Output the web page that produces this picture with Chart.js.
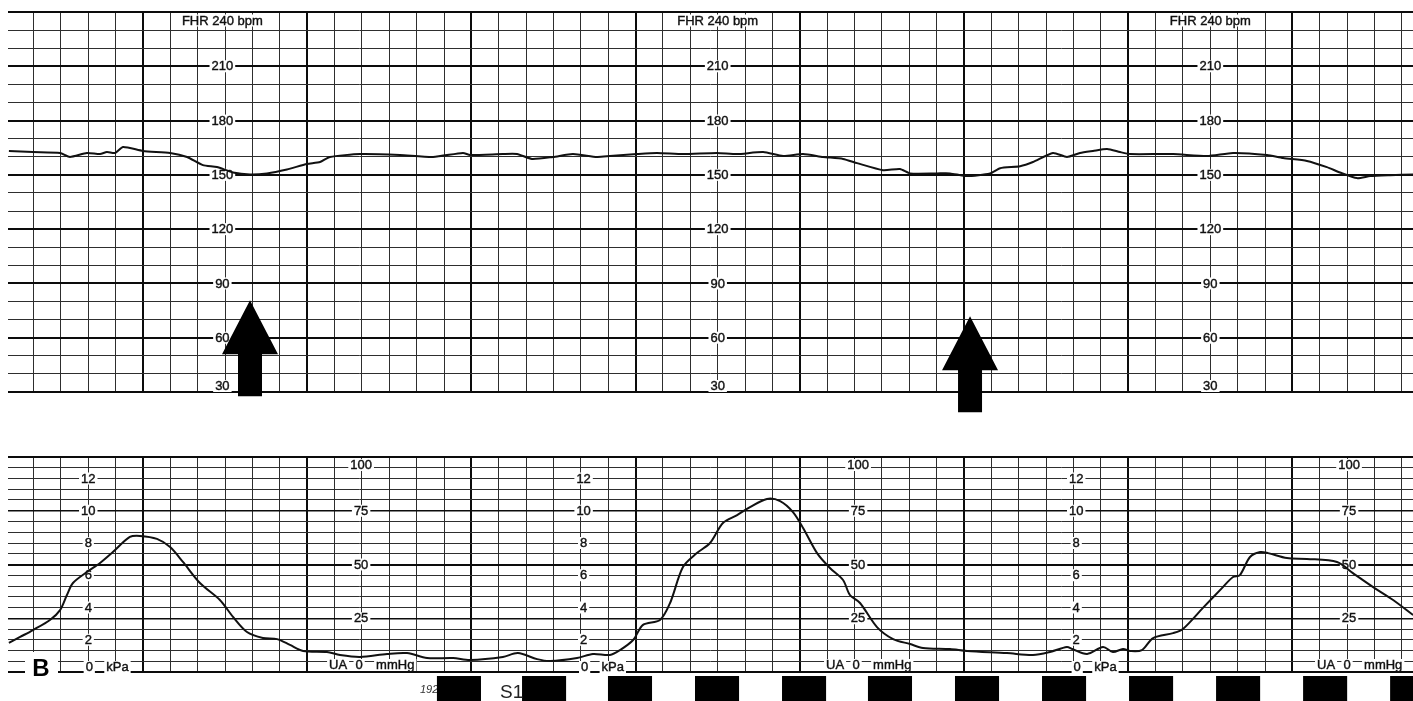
<!DOCTYPE html>
<html><head><meta charset="utf-8">
<script src="https://cdn.jsdelivr.net/npm/chart.js@4.4.1/dist/chart.umd.min.js"></script>
<style>
html,body{margin:0;padding:0;background:#fff;}
#wrap{position:relative;width:1413px;height:701px;overflow:hidden;background:#fff;}
canvas{position:absolute;left:0;display:block;}
#top{top:0;}
#bot{top:440px;}
</style></head><body>
<div id="wrap">
<canvas id="top" width="1413" height="420"></canvas>
<canvas id="bot" width="1413" height="261"></canvas>
</div>
<script>
// ---- data (time in seconds along the paper) ----
const fhrTime = [11.0,19.8,29.7,33.3,39.5,44.3,46.8,49.8,52.7,60.0,69.9,76.1,81.9,87.0,92.9,99.1,105.3,112.6,119.9,124.7,128.3,139.3,153.9,166.0,176.9,179.5,191.5,196.7,202.1,209.8,217.1,225.9,230.6,240.5,247.8,257.3,269.7,277.1,286.6,293.9,301.2,308.5,315.8,320.9,330.4,336.6,340.3,350.1,354.9,361.1,369.5,373.2,380.5,385.2,392.5,397.6,402.4,407.1,412.3,417.0,420.7,436.4,448.8,458.3,470.7,476.6,485.3,492.6,497.4,503.6,508.4,515.7,524.1];
const fhrBpm = [163.2,162.6,162.1,159.9,162.1,161.5,162.6,162.1,165.4,163.2,162.1,159.9,155.4,154.3,151.3,150.2,150.8,153.0,156.0,157.1,159.9,161.5,161.0,159.9,162.1,161.0,161.5,161.5,158.8,159.9,161.5,159.9,160.4,161.5,162.1,161.5,162.1,161.5,162.6,160.4,161.5,159.9,158.8,156.5,152.6,153.2,150.8,150.8,150.8,149.3,150.8,153.7,154.8,157.1,162.1,159.9,162.1,163.2,164.3,162.6,161.5,161.5,160.4,162.1,161.0,159.3,157.7,154.3,151.3,148.2,149.3,149.8,150.2];

const uaTime = [11.0,15.1,19.8,26.0,29.7,32.2,34.4,39.5,44.3,49.0,55.2,58.9,65.1,69.9,74.6,80.8,88.1,92.9,98.0,103.8,109.0,113.7,118.5,127.2,132.0,139.3,149.2,156.5,163.8,173.3,179.5,191.5,197.0,204.0,208.7,218.6,224.4,230.6,234.3,239.1,242.7,248.9,252.6,257.3,262.4,267.2,271.9,277.1,281.8,288.0,292.8,297.5,301.2,306.3,311.0,315.8,318.3,322.0,328.2,334.1,340.3,345.0,354.9,361.1,375.7,385.2,391.4,397.6,399.5,405.0,410.8,414.4,418.1,420.7,425.0,429.1,436.4,440.0,447.3,454.6,458.3,460.8,464.5,468.2,471.1,478.0,485.3,496.3,502.1,509.5,516.8,524.1];
const uaMmHg = [13.5,16.3,19.5,24.2,28.8,35.8,41.4,46.5,50.7,55.8,62.8,63.3,61.9,58.1,51.2,41.4,33.5,25.6,18.6,15.8,15.3,12.6,9.8,9.3,7.9,7.0,8.4,8.8,6.5,6.5,5.6,7.0,8.8,6.0,5.1,6.5,8.4,7.9,10.2,14.9,21.9,24.2,32.1,48.8,55.3,60.0,69.3,73.0,76.7,80.5,79.5,74.4,67.0,55.3,48.4,42.8,35.8,32.1,20.9,15.3,13.0,11.2,10.7,9.8,8.8,7.9,9.3,11.6,10.7,8.4,11.6,9.3,10.7,9.8,10.2,15.8,18.1,20.0,29.8,39.5,44.2,45.1,53.5,55.8,55.3,53.0,52.6,51.2,46.0,39.5,33.5,26.5];

// tick labels printed on the paper
const fhrTickValues = [240,210,180,150,120,90,60,30];
const fhrTickLabels = ['FHR 240 bpm','210','180','150','120','90','60','30'];
const kPaTickValues = [12,10,8,6,4,2,0];
const mmHgTickValues = [100,75,50,25,0];

// where the printer put its label columns (seconds)
const fhrLabelCols = [89,270,450];
const kPaLabelCols = [40,221,401];
const mmHgLabelCols = [139.7,321.3,500.7];

// annotations
const arrowTimes = [99.1,362.2];
const arrowTipBpm = [80.7,71.8];
const markerStarts = [167.4,198.5,229.9,261.7,293.5,324.9,356.7,388.5,420.3,452.1,483.9,515.7];
const markerLen = 16.1;

const X_MIN = 10.67, X_MAX = 524.06;
const FONT = '13px "Liberation Sans", Arial, sans-serif';
const INK = '#111';
const THIN = '#2e2e2e', THICK = '#0c0c0c';

function ticksEvery(step){
  return function(scale){
    const out=[]; const s=Math.ceil((scale.min-1e-9)/step)*step;
    for(let v=s; v<=scale.max+1e-9; v+=step) out.push({value: Math.round(v*1000)/1000});
    scale.ticks = out;
  };
}
function boxText(ctx, text, x, y, align){
  ctx.font = FONT;
  const w = ctx.measureText(text).width;
  const left = align==='left' ? x : (align==='right' ? x-w : x-w/2);
  ctx.fillStyle = '#fff';
  ctx.fillRect(left-2, y-6, w+4, 12);
  ctx.fillStyle = INK; ctx.strokeStyle = INK; ctx.lineWidth = 0.4;
  ctx.textAlign = 'left'; ctx.textBaseline = 'middle';
  ctx.fillText(text, left, y+0.5);
  ctx.strokeText(text, left, y+0.5);
}
function xAxis(){
  return { type:'linear', min:X_MIN, max:X_MAX, afterBuildTicks: ticksEvery(10),
    ticks:{display:false}, border:{display:false},
    grid:{drawTicks:false,
      color: c => (c.tick && c.tick.value % 60 === 0) ? THICK : THIN,
      lineWidth: c => (c.tick && c.tick.value % 60 === 0) ? 2 : 1 } };
}

const topLabels = {
  id:'topLabels',
  beforeDatasetsDraw(chart){
    const {ctx, scales:{x, y}} = chart;
    ctx.save();
    fhrLabelCols.forEach(col => {
      const px = x.getPixelForValue(col);
      fhrTickValues.forEach((v,i) => {
        let py = y.getPixelForValue(v);
        if (v === 240) py += 8.5;
        if (v === 30) py -= 6;
        boxText(ctx, fhrTickLabels[i], px, py, 'center');
      });
    });
    ctx.restore();
  },
  afterDraw(chart){
    const {ctx, scales:{x, y}} = chart;
    ctx.save();
    ctx.fillStyle = '#000';
    arrowTimes.forEach((t,i) => {
      const cx = x.getPixelForValue(t), ty = y.getPixelForValue(arrowTipBpm[i]);
      ctx.beginPath();
      ctx.moveTo(cx, ty);
      ctx.lineTo(cx+28, ty+54);
      ctx.lineTo(cx+12, ty+54);
      ctx.lineTo(cx+12, ty+96);
      ctx.lineTo(cx-12, ty+96);
      ctx.lineTo(cx-12, ty+54);
      ctx.lineTo(cx-28, ty+54);
      ctx.closePath();
      ctx.fill();
    });
    ctx.restore();
  }
};

const botLabels = {
  id:'botLabels',
  beforeDatasetsDraw(chart){
    const {ctx, scales:{x, y, yk}} = chart;
    ctx.save();
    kPaLabelCols.forEach(col => {
      const px = x.getPixelForValue(col);
      kPaTickValues.forEach(v => {
        if (v === 0) {
          const py = yk.getPixelForValue(0) - 5;
          boxText(ctx, '0', px+1, py, 'center');
          boxText(ctx, 'kPa', px+18, py, 'left');
        } else {
          boxText(ctx, String(v), px, yk.getPixelForValue(v), 'center');
        }
      });
    });
    mmHgLabelCols.forEach(col => {
      const px = x.getPixelForValue(col);
      mmHgTickValues.forEach(v => {
        if (v === 0) {
          const py = y.getPixelForValue(0) - 7;
          boxText(ctx, 'UA', px-14, py, 'right');
          boxText(ctx, '0', px-2, py, 'center');
          boxText(ctx, 'mmHg', px+15, py, 'left');
        } else {
          let py = y.getPixelForValue(v);
          if (v === 100) py += 8;
          boxText(ctx, String(v), px, py, 'center');
        }
      });
    });
    ctx.restore();
  },
  afterDraw(chart){
    const {ctx, scales:{x}, chartArea} = chart;
    const H = chart.height;
    ctx.save();
    ctx.fillStyle = '#333';
    ctx.font = 'italic 11px "Liberation Sans", Arial, sans-serif';
    ctx.textAlign = 'left'; ctx.textBaseline = 'middle';
    ctx.fillText('1923', 420, chartArea.bottom + 18);
    ctx.fillStyle = '#000';
    markerStarts.forEach(t => {
      const a = x.getPixelForValue(t), b = x.getPixelForValue(t + markerLen);
      ctx.fillRect(a, chartArea.bottom + 4, b - a, H - chartArea.bottom - 4);
    });
    ctx.fillStyle = '#222';
    ctx.font = '19px "Liberation Sans", Arial, sans-serif';
    ctx.fillText('S1', 500, chartArea.bottom + 21);
    ctx.fillStyle = '#fff';
    ctx.fillRect(25, chartArea.bottom - 20, 33, 24);
    ctx.fillStyle = '#000';
    ctx.font = 'bold 24px "Liberation Sans", Arial, sans-serif';
    ctx.textAlign = 'center';
    ctx.fillText('B', 41, chartArea.bottom - 3);
    ctx.restore();
  }
};

new Chart(document.getElementById('top'), {
  type:'line',
  data:{ datasets:[{ data: fhrTime.map((t,i)=>({x:t, y:fhrBpm[i]})),
    borderColor:'#111', borderWidth:2, pointRadius:0, tension:0.2, fill:false }]},
  options:{
    responsive:false, animation:false, events:[],
    layout:{padding:{left:8, right:0, top:12, bottom:28}},
    plugins:{legend:{display:false}, tooltip:{enabled:false}},
    scales:{
      x: xAxis(),
      y:{ type:'linear', min:30, max:240, afterBuildTicks: ticksEvery(10),
        ticks:{display:false}, border:{display:false},
        grid:{drawTicks:false,
          color: c => (c.tick && c.tick.value % 30 === 0) ? THICK : THIN,
          lineWidth: c => (c.tick && c.tick.value % 30 === 0) ? 2 : 1 } }
    }
  },
  plugins:[topLabels]
});

new Chart(document.getElementById('bot'), {
  type:'line',
  data:{ datasets:[{ data: uaTime.map((t,i)=>({x:t, y:uaMmHg[i]})),
    borderColor:'#111', borderWidth:2, pointRadius:0, tension:0.3, fill:false }]},
  options:{
    responsive:false, animation:false, events:[],
    layout:{padding:{left:8, right:0, top:17, bottom:29}},
    plugins:{legend:{display:false}, tooltip:{enabled:false}},
    scales:{
      x: xAxis(),
      y:{ type:'linear', min:0, max:100, afterBuildTicks: ticksEvery(5),
        ticks:{display:false}, border:{display:false},
        grid:{drawTicks:false,
          color: c => (c.tick && c.tick.value % 25 === 0) ? THICK : THIN,
          lineWidth: c => { const v = c.tick ? c.tick.value : 1; return (v % 50 === 0) ? 2 : (v % 25 === 0 ? 1.5 : 1); } } },
      yk:{ type:'linear', position:'right', min:0, max:100/7.5, display:false }
    }
  },
  plugins:[botLabels]
});
</script>
</body></html>
